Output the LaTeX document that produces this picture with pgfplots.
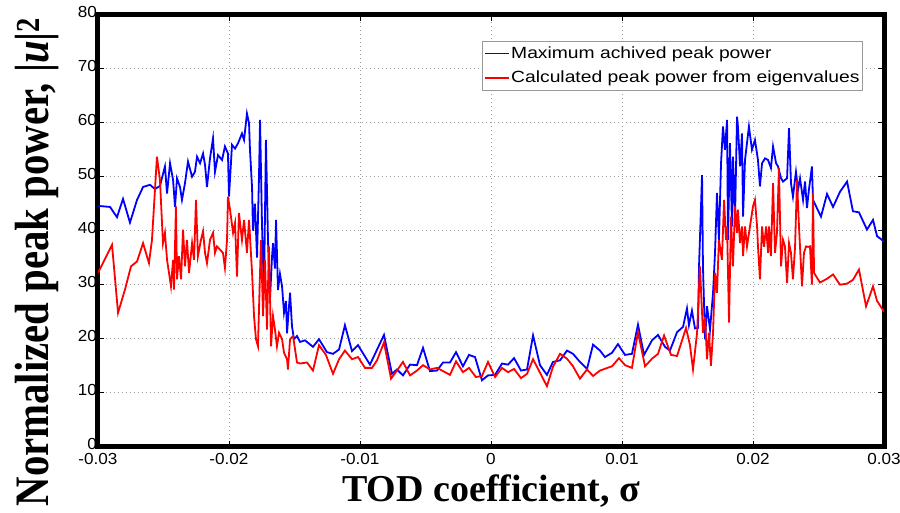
\documentclass[border=0pt]{standalone}
\usepackage{fontspec}
\usepackage{pgfplots}
\pgfplotsset{compat=1.18}
\usepackage{pgfplotstable}
\setmainfont{Liberation Serif}
\newfontfamily\sansw[FakeStretch=1.07]{Liberation Sans}
\newfontfamily\sansl[FakeStretch=1.19]{Liberation Sans}
\newfontfamily\serifn[FakeStretch=0.85]{Liberation Serif}
\newcommand{\tickfont}{\fontsize{16}{18}\selectfont\sansw}
\newcommand{\legfont}{\fontsize{16.2}{18}\selectfont\sansl}

\pgfplotstableread{
x y
-0.03000 44.6
-0.02908 44.4
-0.02855 42.5
-0.02809 45.9
-0.02756 41.5
-0.02702 45.7
-0.02656 48.1
-0.02603 48.5
-0.02565 47.7
-0.02527 48.3
-0.02489 51.9
-0.02473 46.9
-0.02450 52.5
-0.02427 49.4
-0.02412 44.4
-0.02397 49.7
-0.02374 48.1
-0.02359 45.7
-0.02336 48.8
-0.02313 52.8
-0.02282 50.0
-0.02260 50.9
-0.02244 53.7
-0.02221 52.5
-0.02198 54.3
-0.02183 52.2
-0.02168 48.1
-0.02145 53.4
-0.02122 57.1
-0.02107 50.9
-0.02084 54.0
-0.02053 53.1
-0.02031 55.6
-0.02008 54.3
-0.02000 46.3
-0.01977 55.9
-0.01954 55.2
-0.01931 56.2
-0.01901 58.0
-0.01885 56.8
-0.01863 61.7
-0.01847 59.9
-0.01840 55.0
-0.01824 48.0
-0.01817 40.0
-0.01802 45.0
-0.01786 35.0
-0.01771 50.0
-0.01763 60.5
-0.01748 41.0
-0.01733 28.5
-0.01718 56.8
-0.01702 38.0
-0.01687 27.3
-0.01672 35.0
-0.01664 37.7
-0.01649 33.0
-0.01641 42.0
-0.01626 29.0
-0.01611 32.0
-0.01595 29.7
-0.01580 24.8
-0.01565 27.0
-0.01557 21.0
-0.01542 26.0
-0.01534 28.5
-0.01519 22.3
-0.01504 19.9
-0.01481 20.5
-0.01458 19.4
-0.01420 19.7
-0.01359 18.5
-0.01313 19.9
-0.01252 17.5
-0.01206 17.2
-0.01160 18.0
-0.01115 22.5
-0.01061 17.7
-0.01015 18.8
-0.00924 15.2
-0.00817 20.7
-0.00756 13.5
-0.00718 14.3
-0.00672 13.2
-0.00618 15.2
-0.00565 15.1
-0.00519 18.3
-0.00466 14.0
-0.00412 14.1
-0.00366 15.6
-0.00313 15.6
-0.00267 17.5
-0.00214 14.9
-0.00168 17.0
-0.00122 16.6
-0.00069 12.3
-0.00023 13.2
0.00031 13.3
0.00084 15.4
0.00130 15.2
0.00176 16.4
0.00229 14.1
0.00275 14.3
0.00321 20.6
0.00374 15.1
0.00427 13.3
0.00473 15.7
0.00527 16.0
0.00580 17.8
0.00626 17.2
0.00679 15.7
0.00733 14.4
0.00779 18.9
0.00832 17.8
0.00870 16.6
0.00924 17.4
0.00969 19.0
0.01023 17.0
0.01076 17.2
0.01122 22.6
0.01168 17.0
0.01229 19.7
0.01275 20.7
0.01328 18.5
0.01366 17.8
0.01420 21.2
0.01466 22.2
0.01496 25.6
0.01511 22.5
0.01534 25.2
0.01557 21.9
0.01580 22.0
0.01588 33.4
0.01611 50.3
0.01618 33.4
0.01634 19.9
0.01649 26.0
0.01672 21.7
0.01695 28.5
0.01710 35.9
0.01725 47.0
0.01740 38.3
0.01756 52.5
0.01771 59.3
0.01786 55.0
0.01802 60.5
0.01809 38.3
0.01824 56.2
0.01840 40.8
0.01847 53.7
0.01863 42.6
0.01878 61.1
0.01885 59.3
0.01901 51.9
0.01916 58.0
0.01924 42.6
0.01939 53.1
0.01954 56.2
0.01969 59.3
0.01992 55.0
0.02015 56.8
0.02038 53.1
0.02053 48.2
0.02069 52.5
0.02092 53.4
0.02115 53.1
0.02137 51.6
0.02153 55.6
0.02176 52.5
0.02191 51.9
0.02214 49.7
0.02229 49.1
0.02260 49.7
0.02275 59.0
0.02290 48.8
0.02305 46.3
0.02328 50.9
0.02344 47.6
0.02359 49.7
0.02382 45.7
0.02397 49.1
0.02412 44.2
0.02427 47.6
0.02450 51.9
0.02458 45.7
0.02519 42.6
0.02565 46.8
0.02611 44.4
0.02664 47.2
0.02718 49.1
0.02763 43.6
0.02809 43.4
0.02870 40.2
0.02916 42.0
0.02947 39.0
0.03000 38.0
}\bluedata

\pgfplotstableread{
x y
-0.03000 32.2
-0.02893 37.4
-0.02847 24.8
-0.02794 29.1
-0.02748 33.4
-0.02702 34.3
-0.02656 37.7
-0.02611 34.0
-0.02588 38.3
-0.02550 53.7
-0.02527 49.4
-0.02504 37.7
-0.02489 39.6
-0.02473 34.6
-0.02458 32.2
-0.02443 29.7
-0.02427 34.6
-0.02420 29.1
-0.02405 44.5
-0.02397 31.0
-0.02382 35.3
-0.02366 31.0
-0.02351 40.2
-0.02336 33.4
-0.02321 38.3
-0.02305 32.2
-0.02282 37.7
-0.02267 34.6
-0.02252 45.7
-0.02237 35.3
-0.02214 38.3
-0.02198 39.9
-0.02183 35.9
-0.02168 34.0
-0.02145 38.3
-0.02122 39.6
-0.02107 35.9
-0.02092 37.1
-0.02069 36.5
-0.02046 35.9
-0.02031 33.1
-0.02015 38.3
-0.02008 46.3
-0.01992 43.9
-0.01969 39.6
-0.01954 41.4
-0.01939 31.5
-0.01924 43.3
-0.01901 38.3
-0.01885 42.0
-0.01863 35.9
-0.01847 42.0
-0.01824 32.2
-0.01809 24.2
-0.01794 19.9
-0.01779 18.6
-0.01756 38.3
-0.01740 24.2
-0.01725 34.6
-0.01710 21.7
-0.01695 37.1
-0.01679 18.6
-0.01664 24.2
-0.01649 21.7
-0.01634 18.6
-0.01618 21.1
-0.01595 19.9
-0.01580 17.4
-0.01557 16.2
-0.01550 14.3
-0.01534 19.9
-0.01511 20.5
-0.01481 15.6
-0.01458 15.4
-0.01405 15.6
-0.01359 14.1
-0.01313 18.8
-0.01260 17.0
-0.01206 13.5
-0.01160 16.2
-0.01115 17.8
-0.01061 16.2
-0.01015 16.6
-0.00962 14.6
-0.00908 14.6
-0.00870 16.0
-0.00817 19.3
-0.00763 12.6
-0.00718 14.1
-0.00672 15.7
-0.00618 13.2
-0.00565 14.1
-0.00519 15.1
-0.00466 14.3
-0.00412 14.6
-0.00366 14.0
-0.00313 13.3
-0.00267 15.8
-0.00214 13.8
-0.00168 14.6
-0.00115 12.9
-0.00069 13.1
-0.00023 15.7
0.00031 12.9
0.00084 14.6
0.00130 13.8
0.00176 14.4
0.00229 12.7
0.00275 13.5
0.00321 16.2
0.00374 13.7
0.00427 11.2
0.00473 14.8
0.00527 17.2
0.00580 16.3
0.00626 14.9
0.00679 12.6
0.00733 14.3
0.00779 13.1
0.00832 14.1
0.00924 14.9
0.00977 16.4
0.01023 15.1
0.01076 14.6
0.01122 21.2
0.01176 14.9
0.01229 16.3
0.01275 17.2
0.01321 20.6
0.01374 17.0
0.01420 16.8
0.01489 22.0
0.01519 18.8
0.01542 14.3
0.01573 21.1
0.01595 33.4
0.01618 21.1
0.01634 24.0
0.01649 16.2
0.01664 21.1
0.01679 15.0
0.01695 21.1
0.01710 32.2
0.01725 28.5
0.01740 38.3
0.01763 34.6
0.01779 45.7
0.01794 38.3
0.01802 40.8
0.01817 23.0
0.01832 42.6
0.01847 33.4
0.01863 44.5
0.01878 39.6
0.01885 43.9
0.01901 37.7
0.01916 40.8
0.01924 35.3
0.01939 40.8
0.01954 37.1
0.01977 40.8
0.02000 44.5
0.02015 45.7
0.02031 40.8
0.02038 37.1
0.02053 31.0
0.02069 40.8
0.02084 37.0
0.02100 40.8
0.02115 35.9
0.02122 40.8
0.02137 35.3
0.02153 48.8
0.02168 35.9
0.02183 39.6
0.02198 51.6
0.02214 33.4
0.02229 38.3
0.02244 37.1
0.02260 30.3
0.02275 37.7
0.02290 35.9
0.02305 31.0
0.02321 37.0
0.02336 49.4
0.02351 40.8
0.02374 29.7
0.02389 35.9
0.02405 37.1
0.02420 37.0
0.02435 37.1
0.02450 30.0
0.02458 47.0
0.02466 32.2
0.02511 30.4
0.02565 31.1
0.02611 31.9
0.02664 30.0
0.02718 30.2
0.02763 30.9
0.02809 32.8
0.02863 26.0
0.02916 29.7
0.02947 27.0
0.03000 25.0
}\reddata

\begin{document}
\begin{tikzpicture}
\path[use as bounding box] (-98pt,-65.3pt) rectangle (802pt,446.7pt);
\begin{axis}[
  at={(0pt,0pt)}, anchor=south west,
  scale only axis, width=786pt, height=432pt,
  xmin=-0.03, xmax=0.03, ymin=0, ymax=80,
  xtick={-0.03,-0.02,-0.01,0,0.01,0.02,0.03},
  xticklabels={-0.03,-0.02,-0.01,0,0.01,0.02,0.03},
  ytick={0,10,20,30,40,50,60,70,80},
  scaled x ticks=false,
  tick align=inside, major tick length=6pt,
  tick style={black, line width=0.8pt},
  grid=major,
  major grid style={gray!75, line width=0.7pt, dash pattern=on 1pt off 3pt},
  axis line style={line width=5pt, black},
  /pgf/number format/assume math mode=true,
  ticklabel style={font=\tickfont},
  yticklabel style={inner xsep=1pt, inner ysep=0pt, yshift=3pt},
  xticklabel style={inner ysep=6pt},
  xlabel={\fontsize{38}{40}\selectfont\bfseries TOD coefficient, σ},
  ylabel={\fontsize{48}{50}\selectfont\serifn\bfseries Normalized peak power, |\textit{u}|\textsuperscript{2}},
  xlabel style={at={(axis description cs:0.5,-0.103)}, anchor=center},
  ylabel style={at={(axis description cs:-0.0776,0.428)}, anchor=center},
  legend cell align=left,
  legend image code/.code={\draw[#1, line width=1.8pt] (0pt,0pt) -- (24pt,0pt);},
  legend style={at={(0.973,0.94)}, anchor=north east, draw=gray!80, line width=0.6pt,
    font=\legfont, inner xsep=2pt, inner ysep=5pt, row sep=9pt,
    nodes={inner xsep=1pt, inner ysep=1pt}},
]
\addplot[blue, line width=1.8pt] table[x=x,y=y] {\bluedata};
\addlegendentry{Maximum achived peak power}
\addplot[red, line width=1.8pt] table[x=x,y=y] {\reddata};
\addlegendentry{Calculated peak power from eigenvalues}
\end{axis}
\end{tikzpicture}
\end{document}
